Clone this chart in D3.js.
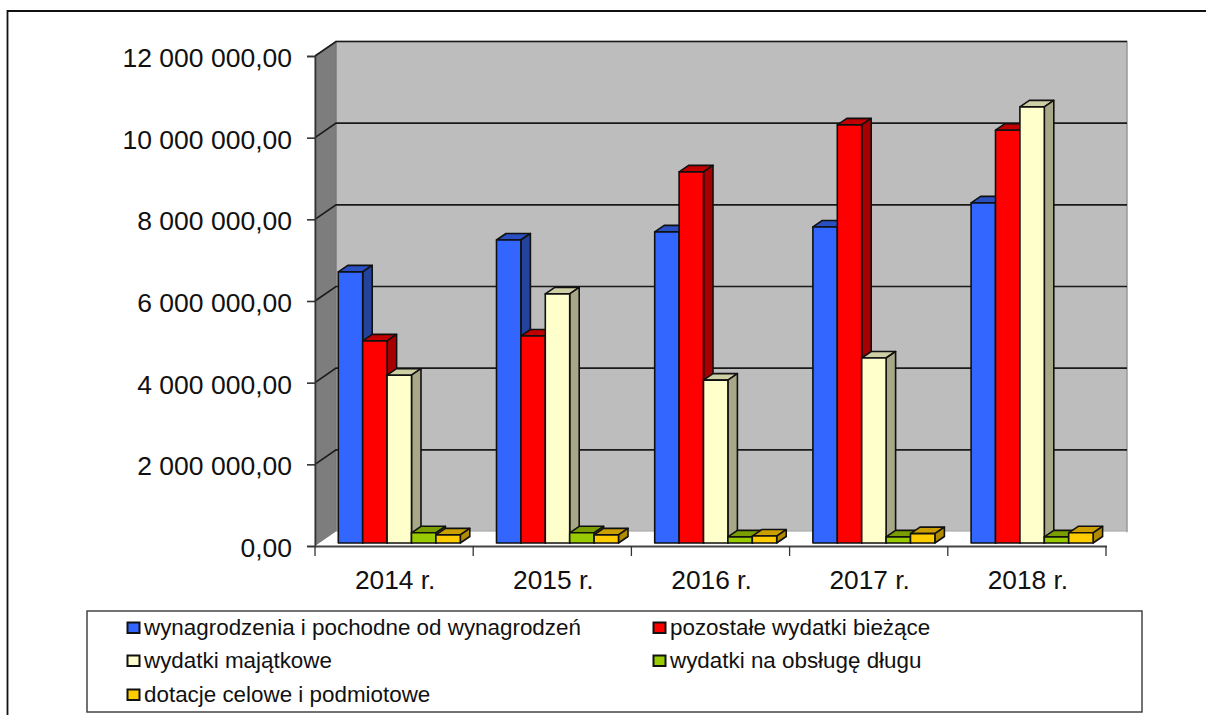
<!DOCTYPE html>
<html><head><meta charset="utf-8">
<script src="https://cdn.jsdelivr.net/npm/d3@7/dist/d3.min.js"></script>
<style>html,body{margin:0;padding:0;background:#fff}svg{display:block}text{font-family:"Liberation Sans",Arial,sans-serif;fill:#111}</style>
</head><body><svg id="c" width="1206" height="715"></svg>
<script>
const categories = ["2014 r.","2015 r.","2016 r.","2017 r.","2018 r."];
const seriesNames = ["wynagrodzenia i pochodne od wynagrodzeń","pozostałe wydatki bieżące","wydatki majątkowe","wydatki na obsługę długu","dotacje celowe i podmiotowe"];
const wynagrodzenia = [6640000,7420000,7620000,7740000,8330000];
const pozostale = [4950000,5070000,9090000,10240000,10110000];
const majatkowe = [4110000,6100000,3990000,4530000,10680000];
const dlug = [250000,250000,150000,150000,150000];
const dotacje = [200000,200000,170000,230000,250000];
const yTicks = [0,2000000,4000000,6000000,8000000,10000000,12000000];
const fronts = ["#3366ff","#ff0000","#ffffcc","#99cc00","#ffcc00"];
const tops = ["#2a4fc0","#c00000","#cfcfa6","#7a9e00","#cc9f00"];
const sides = ["#23439c","#a80000","#a8a888","#688800","#b08a00"];
const allSeries = [wynagrodzenia,pozostale,majatkowe,dlug,dotacje];
const fmt = v => String(v).replace(/\B(?=(\d{3})+$)/g," ")+",00";
const svg = d3.select("#c");
const INK="#111";
// frame: left and top edges only, the top edge runs off the page
svg.append("path").attr("d","M7.5,715V11H1206").attr("fill","none").attr("stroke","#111").attr("stroke-width",1.8);
const y = d3.scaleLinear().domain([0,12000000]).range([546,56]);
const x = d3.scaleBand().domain(categories).range([315,1106]);
const dx=21, dy=-14.5;
// walls
const wall = svg.append("g");
wall.append("rect").attr("x",315+dx).attr("y",y(12000000)+dy).attr("width",1106-315).attr("height",y(0)-y(12000000))
  .attr("fill","#bdbdbd").attr("stroke","#999").attr("stroke-width",1.5);
wall.append("path").attr("d",`M315,${y(0)}L315,${y(12000000)}L${315+dx},${y(12000000)+dy}L${315+dx},${y(0)+dy}Z`).attr("fill","#7d7d7d").attr("stroke","#777");
wall.append("path").attr("d",`M315,${y(0)}L${315+dx},${y(0)+dy}L${1106+dx},${y(0)+dy}L1106,${y(0)}Z`).attr("fill","#fff");
// grid
yTicks.slice(1).forEach(t=>{
  wall.append("path").attr("d",`M315,${y(t)}L${315+dx},${y(t)+dy}L${1106+dx},${y(t)+dy}`).attr("fill","none").attr("stroke","#1a1a1a").attr("stroke-width",1.6);
});
// axes
const yAxis = d3.axisLeft(y).tickValues(yTicks).tickFormat(fmt).tickSize(8).tickPadding(15);
const gy = svg.append("g").attr("transform","translate(315,0)").call(yAxis);
gy.selectAll("text").attr("font-size",26.5).style("fill","#111").attr("dy","0.39em");
gy.selectAll("path,line").attr("stroke","#333").attr("stroke-width",1.6);
const xAxis = d3.axisBottom(x).tickSize(0).tickPadding(22);
const gx = svg.append("g").attr("transform","translate(1,546)").call(xAxis);
gx.selectAll("text").attr("font-size",26.3).style("fill","#111").attr("dy",".78em");
gx.select("path").remove();
gx.selectAll("line").remove();
svg.append("path").attr("d","M315,546.5H1107").attr("stroke","#444").attr("stroke-width",1.8);
svg.selectAll(".xt").data(categories.concat([null])).join("line").attr("class","xt")
  .attr("x1",(d,i)=>315+i*x.step()).attr("x2",(d,i)=>315+i*x.step()).attr("y1",546).attr("y2",556).attr("stroke","#333").attr("stroke-width",1.3);
// bars
const bw=24.4, bdx=9.5, bdy=-6.5, base=543, yo=543-546;
const marks = svg.append("g");
categories.forEach((c,ci)=>{
  allSeries.forEach((s,si)=>{
    const g = marks.append("g");
    const l = x(c)+23.3+si*bw, r=l+bw, t=y(s[ci])+yo;
    const sty=(sel,f)=>sel.attr("fill",f).attr("stroke",INK).attr("stroke-width",1.6).attr("stroke-linejoin","round");
    sty(g.append("path").attr("d",`M${l},${t}L${l+bdx},${t+bdy}L${r+bdx},${t+bdy}L${r},${t}Z`),tops[si]);
    sty(g.append("path").attr("d",`M${r},${t}L${r+bdx},${t+bdy}L${r+bdx},${base+bdy}L${r},${base}Z`),sides[si]);
    sty(g.append("rect").attr("x",l).attr("y",t).attr("width",bw).attr("height",base-t),fronts[si]);
  });
});
// legend
const lg = svg.append("g");
lg.append("rect").attr("x",87).attr("y",611).attr("width",1055).attr("height",101).attr("fill","#fff").attr("stroke","#444").attr("stroke-width",1.5);
const legendX=[127.5,653.5], legendY=[628,661,695];
seriesNames.forEach((n,i)=>{
  const lx=legendX[i%2], ly=legendY[Math.floor(i/2)];
  lg.append("rect").attr("x",lx).attr("y",ly-5.5).attr("width",12).attr("height",10.5).attr("fill",fronts[i]).attr("stroke",INK).attr("stroke-width",2);
  lg.append("text").attr("x",lx+16.5).attr("y",ly+7).attr("font-size",22.4).text(n);
});
</script></body></html>
